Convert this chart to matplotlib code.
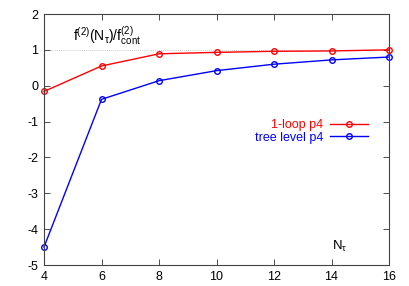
import numpy as np
import matplotlib
matplotlib.use("Agg")
import matplotlib.pyplot as plt

# values
n_tau = [4, 6, 8, 10, 12, 14, 16]
one_loop = [-0.16, 0.55, 0.89, 0.93, 0.96, 0.97, 1.0]
tree_level = [-4.5, -0.38, 0.14, 0.42, 0.60, 0.72, 0.80]
x_ticks = [4, 6, 8, 10, 12, 14, 16]
y_ticks = [-5, -4, -3, -2, -1, 0, 1, 2]

plt.rcParams['font.family'] = ['Liberation Sans', 'DejaVu Sans']
plt.rcParams['mathtext.fontset'] = 'custom'
plt.rcParams['mathtext.rm'] = 'Liberation Sans'
plt.rcParams['mathtext.it'] = 'Liberation Sans'
plt.rcParams['axes.unicode_minus'] = False

fig = plt.figure(figsize=(4.09, 2.86), dpi=100)
ax = fig.add_axes([44 / 409, 21 / 286, 345 / 409, 251 / 286])

ax.axhline(1, color='#bbbbbb', lw=0.6, ls=(0, (1, 1.5)), zorder=0)

mk = dict(marker='o', markersize=4, markerfacecolor='none', markeredgewidth=1.0, lw=1.0)
ax.plot(n_tau, one_loop, color='#ff0000', label='1-loop p4', clip_on=False, **mk)
ax.plot(n_tau, tree_level, color='#0000ff', label='tree level p4', clip_on=False, **mk)

ax.set_xlim(4, 16)
ax.set_ylim(-5, 2)
ax.set_xticks(x_ticks)
ax.set_yticks(y_ticks)
ax.tick_params(direction='in', top=True, right=True, length=4, width=0.6,
               labelsize=9, color='#333333', pad=4)
for s in ax.spines.values():
    s.set_linewidth(0.8)
    s.set_color('#444444')

ax.text(0.083, 0.91, r'f$^{(2)}$(N$_\tau$)/f$^{(2)}_{\rm cont}$', transform=ax.transAxes,
        fontsize=10, va='center', ha='left')
ax.text(0.835, 0.075, r'N$_\tau$', transform=ax.transAxes, fontsize=9.5, va='center', ha='left')

leg = ax.legend(loc='upper right', bbox_to_anchor=(0.939, 0.582), frameon=False,
                markerfirst=False, fontsize=9, labelcolor='linecolor',
                handlelength=3.0, handletextpad=0.55, labelspacing=0.05,
                borderaxespad=0, borderpad=0)

fig.savefig('out.png', dpi=100)
